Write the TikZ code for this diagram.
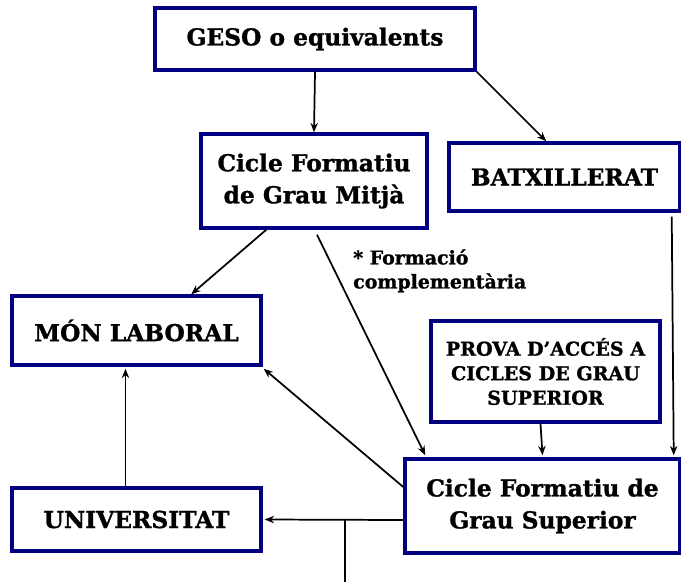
\documentclass[tikz,border=0pt]{standalone}
\usepackage{fontspec}
\setmainfont{DejaVu Serif}[BoldFeatures={FakeBold=1.2}]
\usetikzlibrary{calc,arrows.meta}
\definecolor{boxblue}{RGB}{0,0,128}
\tikzset{
  box/.style={draw=boxblue, line width=2.6pt, fill=white, inner sep=0pt, align=center,
    font=\bfseries\fontsize{17.5}{24}\selectfont},
  smallbox/.style={box, font=\bfseries\fontsize{14.3}{18.4}\selectfont},
  arr/.style={-{Stealth[length=7pt,width=5.5pt]}, line width=1.3pt, black},
  plain/.style={line width=1.3pt, black},
}
\begin{document}
\begin{tikzpicture}[x=0.75pt,y=-0.75pt]
\useasboundingbox (0,0) rectangle (681,582);
\node[box, minimum width=320*0.75pt, minimum height=62*0.75pt] (geso) at (315,39) {GESO o equivalents};
\node[box, minimum width=226*0.75pt, minimum height=94*0.75pt] (cfgm) at (314,181) {Cicle Formatiu\\de Grau Mitjà};
\node[box, minimum width=231*0.75pt, minimum height=68*0.75pt] (batx) at (564.5,177) {BATXILLERAT};
\node[box, minimum width=249*0.75pt, minimum height=69*0.75pt] (mon) at (136.5,330.5) {MÓN LABORAL};
\node[smallbox, minimum width=229*0.75pt, minimum height=101*0.75pt] (prova) at (545.5,371.5) {PROVA D’ACCÉS A\\CICLES DE GRAU\\SUPERIOR};
\node[box, minimum width=275*0.75pt, minimum height=94*0.75pt] (cfgs) at (542.5,506) {Cicle Formatiu de\\Grau Superior};
\node[box, minimum width=249*0.75pt, minimum height=63*0.75pt] (univ) at (136.5,519.5) {UNIVERSITAT};
\node[anchor=north west, inner sep=0pt, align=left, font=\bfseries\fontsize{14.2}{18}\selectfont] (fc) at (353,249) {* Formació\\complementària};
\coordinate (bot) at (345,582);

\draw[arr] (geso.south) -- (cfgm.north);
\draw[arr] (geso.south east) -- ($(batx.north west)+(99,0)$);
\draw[arr] ($(cfgm.south west)+(67,0)$) -- ($(mon.north west)+(181,0)$);
\draw[arr] ($(cfgm.south)+(3,5)$) -- ($(cfgs.north west)+(22,-2)$);
\draw[arr] ($(prova.south)+(-5,0)$) -- ($(cfgs.north)+(0,-2)$);
\draw[arr] ($(batx.south east)+(-10,4)$) -- ($(cfgs.north east)+(-8,-2)$);
\draw[arr] ($(cfgs.west)+(0,-19)$) -- ($(mon.south east)+(1,2)$);
\draw[arr] ($(cfgs.west)+(0,14)$) -- ($(univ.east)+(2,0)$);
\draw[plain] (bot |- univ.east) ++(0,0.5) -- (bot);
\draw[arr] ($(univ.north)+(-11,0)$) -- ($(mon.south)+(-11,2)$);
\end{tikzpicture}
\end{document}
